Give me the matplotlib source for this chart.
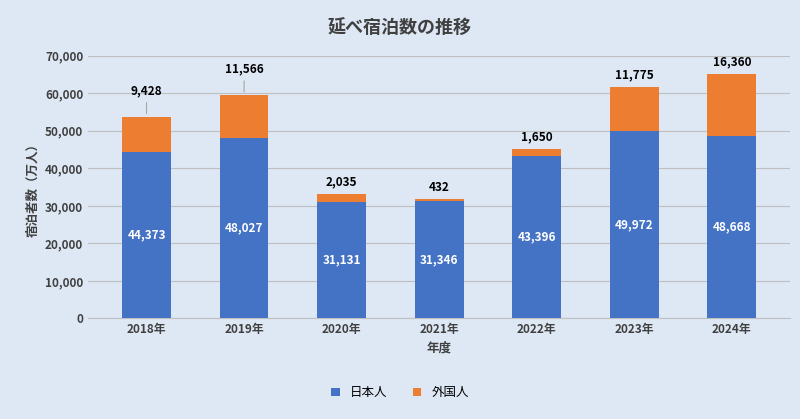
import matplotlib.pyplot as plt

plt.rcParams['font.family'] = 'Noto Sans CJK JP'

years = ['2018年', '2019年', '2020年', '2021年', '2022年', '2023年', '2024年']
japanese = [44373, 48027, 31131, 31346, 43396, 49972, 48668]
foreign = [9428, 11566, 2035, 432, 1650, 11775, 16360]
label_gap = [14, 14, 4, 4, 4, 4, 4]  # ポイント

bg = '#dde8f4'
fig = plt.figure(figsize=(8, 4.19), dpi=100, facecolor=bg)
ax = fig.add_axes([0.11, 0.24, 0.878, 0.627], facecolor=bg)

x = range(len(years))
ax.bar(x, japanese, width=0.5, color='#4472c4', label='日本人', zorder=3)
ax.bar(x, foreign, width=0.5, bottom=japanese, color='#ed7d31', label='外国人', zorder=3)

for i in x:
    ax.text(i, japanese[i] / 2, f'{japanese[i]:,}', ha='center', va='center',
            color='white', fontsize=8.5, fontweight='bold', zorder=4)
    top = japanese[i] + foreign[i]
    ax.annotate(f'{foreign[i]:,}', xy=(i, top), xytext=(0, label_gap[i]),
                textcoords='offset points', ha='center', va='bottom',
                fontsize=8.5, fontweight='bold',
                arrowprops=dict(arrowstyle='-', color='#a6a6a6', lw=0.8) if label_gap[i] > 5 else None)

ax.set_ylim(0, 70000)
ax.set_yticks(range(0, 70001, 10000))
ax.set_yticklabels([f'{v:,}' for v in range(0, 70001, 10000)], fontsize=8.5, fontweight='bold', color='#404040')
ax.set_xticks(list(x))
ax.set_xticklabels(years, fontsize=8.5, fontweight='bold', color='#404040')
ax.set_xlim(-0.6, 6.6)
ax.grid(axis='y', color='#bfbfbf', lw=0.8, zorder=0)
for s in ['top', 'right', 'left']:
    ax.spines[s].set_visible(False)
ax.spines['bottom'].set_color('#bfbfbf')
ax.tick_params(length=0)
ax.set_xlabel('年度', fontsize=9, fontweight='bold', color='#404040')
ax.set_ylabel('宿泊者数（万人）', fontsize=9, fontweight='bold', color='#404040')
fig.suptitle('延べ宿泊数の推移', y=0.955, fontsize=13, fontweight='bold', color='#404040')
fig.legend(loc='lower center', bbox_to_anchor=(0.5, 0.02), ncol=2, frameon=False,
           fontsize=9, handlelength=0.7, handleheight=0.7)

fig.savefig('out.png', facecolor=bg)
